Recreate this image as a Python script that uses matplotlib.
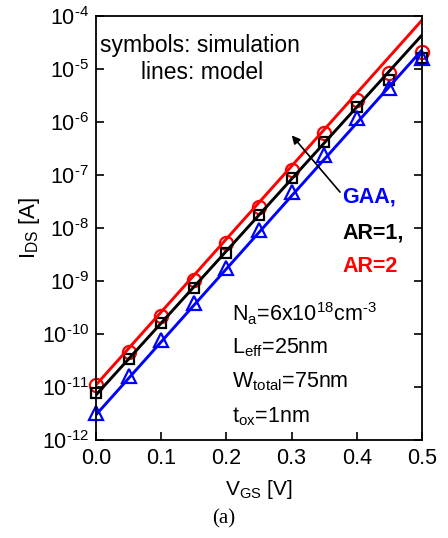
import numpy as np
import matplotlib
matplotlib.use("Agg")
import matplotlib.pyplot as plt

plt.rcParams['font.family'] = ['Liberation Sans', 'DejaVu Sans']
plt.rcParams['mathtext.fontset'] = 'custom'
plt.rcParams['mathtext.rm'] = 'Liberation Sans'
plt.rcParams['mathtext.it'] = 'Liberation Sans:italic'
plt.rcParams['mathtext.bf'] = 'Liberation Sans:bold'

# Simulation (symbols)
vgs_sim = [0.0, 0.05, 0.10, 0.15, 0.20, 0.25, 0.30, 0.35, 0.40, 0.45, 0.50]
ar2_sim = [1.1e-11, 4.6e-11, 2.2e-10, 1.05e-9, 5.2e-9, 2.5e-8, 1.24e-7, 6.2e-7, 2.6e-6, 8.4e-6, 2.1e-5]
ar1_sim = [7.8e-12, 3.4e-11, 1.6e-10, 7.4e-10, 3.4e-9, 1.8e-8, 8.7e-8, 4.2e-7, 1.9e-6, 6.2e-6, 1.6e-5]
gaa_sim = [3.2e-12, 1.6e-11, 7.8e-11, 3.8e-10, 1.8e-9, 9.1e-9, 4.8e-8, 2.4e-7, 1.2e-6, 4.4e-6, 1.6e-5]

# Model (lines)
vgs_model = [0.0, 0.5]
ar2_model = [1.1e-11, 8.4e-5]
ar1_model = [7.1e-12, 4.4e-5]
gaa_model = [3.0e-12, 2.3e-5]

xticks = [0.0, 0.1, 0.2, 0.3, 0.4, 0.5]
xticklabels = ['0.0', '0.1', '0.2', '0.3', '0.4', '0.5']
yticks = [1e-12, 1e-11, 1e-10, 1e-9, 1e-8, 1e-7, 1e-6, 1e-5, 1e-4]
yexps = [12, 11, 10, 9, 8, 7, 6, 5, 4]
yticklabels = [r'$\mathregular{10^{\text{-}%d}}$' % k for k in yexps]

fig = plt.figure(figsize=(4.48, 5.38), dpi=100)
ax = fig.add_axes([0.2143, 0.182, 0.7277, 0.788])

lw = 2.1
mew = 1.6
ax.plot(vgs_sim, ar2_sim, ls='none', marker='o', ms=9.5, mfc='none', mec='#ff0000', mew=mew, clip_on=False)
ax.plot(vgs_sim, ar1_sim, ls='none', marker='s', ms=7, mfc='none', mec='black', mew=mew, clip_on=False)
ax.plot(vgs_sim, gaa_sim, ls='none', marker='^', ms=9.5, mfc='none', mec='#0000ff', mew=mew, clip_on=False)
ax.plot(vgs_model, ar2_model, color='#ff0000', lw=lw)
ax.plot(vgs_model, ar1_model, color='black', lw=lw)
ax.plot(vgs_model, gaa_model, color='#0000ff', lw=lw)

ax.set_yscale('log')
ax.set_xlim(0, 0.5)
ax.set_ylim(1e-12, 1e-4)
ax.set_xticks(xticks)
ax.set_xticklabels(xticklabels)
ax.set_yticks(yticks)
ax.set_yticklabels(yticklabels)
ax.minorticks_off()
ax.tick_params(axis='both', direction='in', length=6, width=1.2, labelsize=15.5, pad=6)
ax.tick_params(axis='y', right=True, labelright=False, pad=5)
for s in ax.spines.values():
    s.set_linewidth(1.3)

ax.set_xlabel(r'$\mathregular{V_{GS}}$ [V]', fontsize=15, labelpad=6)
ax.set_ylabel(r'$\mathregular{I_{DS}}$ [A]', fontsize=16)
ax.yaxis.set_label_coords(-0.165, 0.5)

ax.text(0.012, 0.93, 'symbols: simulation', transform=ax.transAxes, fontsize=16.5, ha='left', va='center')
ax.text(0.325, 0.866, 'lines: model', transform=ax.transAxes, fontsize=16.5, ha='center', va='center')

ax.annotate('', xy=(0.2975, 10**-6.21), xytext=(0.377, 10**-7.36),
            arrowprops=dict(arrowstyle='-|>', color='black', lw=1.2, mutation_scale=12))
bfs = 15.5
ax.text(0.378, 10**-7.42, 'GAA,', color='#0000ff', fontsize=bfs, fontweight='bold', ha='left', va='center')
ax.text(0.378, 10**-8.09, 'AR=1,', color='black', fontsize=bfs, fontweight='bold', ha='left', va='center')
ax.text(0.378, 10**-8.72, 'AR=2', color='#ff0000', fontsize=bfs, fontweight='bold', ha='left', va='center')

tx = 0.209
fs = 15.5
ax.text(tx, 10**-9.62, r'$\mathregular{N_a}$=6x10$\mathregular{^{18}}$cm$\mathregular{^{\text{-}3}}$', fontsize=fs, ha='left', va='center')
ax.text(tx, 10**-10.25, r'$\mathregular{L_{eff}}$=25nm', fontsize=fs, ha='left', va='center')
ax.text(tx, 10**-10.9, r'$\mathregular{W_{total}}$=75nm', fontsize=fs, ha='left', va='center')
ax.text(tx, 10**-11.55, r'$\mathregular{t_{ox}}$=1nm', fontsize=fs, ha='left', va='center')

fig.text(0.5, 0.035, '(a)', fontsize=15, ha='center', va='center', family=['Liberation Serif', 'DejaVu Serif'])

fig.savefig('out.png', dpi=100)
